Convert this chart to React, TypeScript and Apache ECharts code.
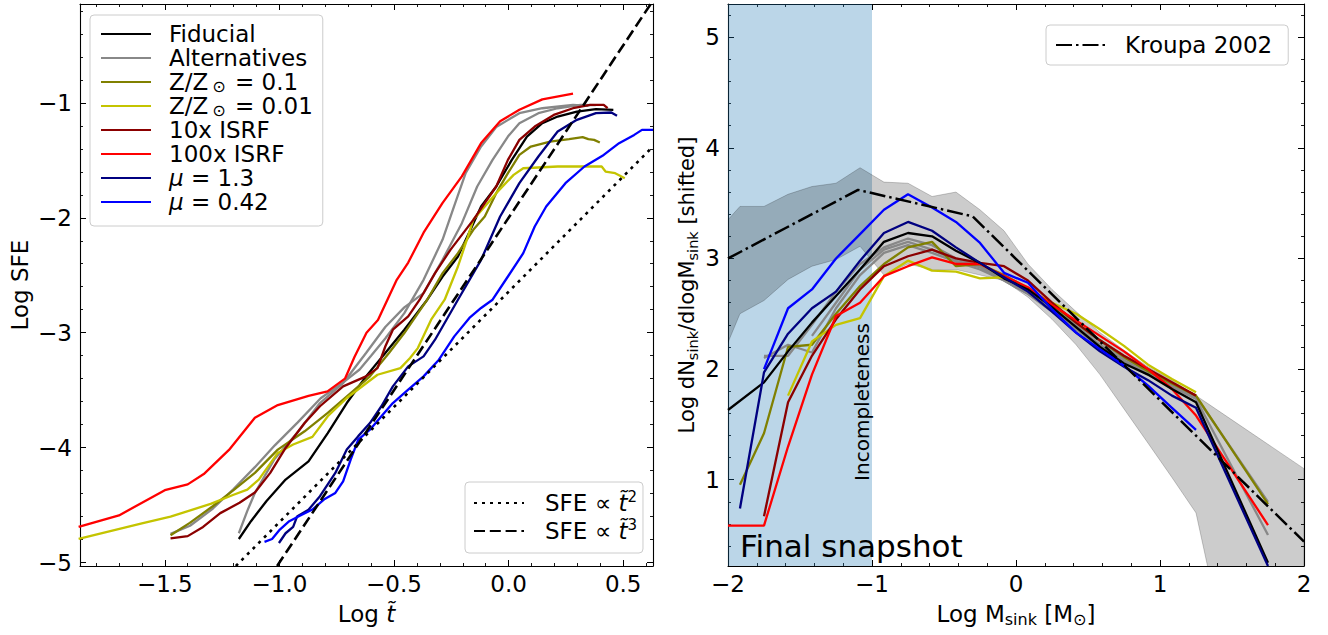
import React, { useEffect, useRef } from "react";
import * as echarts from "echarts";

const FONT = "DejaVu Sans";
const FS = 23;

// ---------------- Left panel: Log t~ (x) vs Log SFE (y) ----------------
const fidT = [-1.177, -1.124, -1.057, -0.973, -0.873, -0.789, -0.706, -0.622, -0.538, -0.455, -0.355, -0.288, -0.221, -0.17, -0.12, -0.054, 0.014, 0.08, 0.147, 0.214, 0.298, 0.381, 0.457];
const fidSFE = [-4.795, -4.64, -4.466, -4.278, -4.12, -3.873, -3.612, -3.38, -3.177, -2.974, -2.713, -2.511, -2.337, -2.12, -1.902, -1.728, -1.496, -1.293, -1.177, -1.119, -1.076, -1.055, -1.061];

const altAT = [-1.475, -1.39, -1.29, -1.2, -1.107, -1.02, -0.92, -0.82, -0.72, -0.65, -0.6, -0.538, -0.455, -0.371, -0.288, -0.238, -0.187, -0.12, -0.054, 0.047, 0.147, 0.281, 0.348];
const altASFE = [-4.75, -4.68, -4.53, -4.36, -4.17, -3.98, -3.78, -3.57, -3.43, -3.32, -3.2, -3.05, -2.83, -2.54, -2.19, -1.9, -1.61, -1.38, -1.21, -1.09, -1.047, -1.018, -1.026];

const altBT = [-1.177, -1.14, -1.107, -1.023, -0.923, -0.823, -0.722, -0.622, -0.538, -0.455, -0.371, -0.288, -0.204, -0.137, -0.07, -0.003, 0.047, 0.13, 0.214, 0.314, 0.38];
const altBSFE = [-4.745, -4.55, -4.395, -4.104, -3.873, -3.612, -3.438, -3.177, -2.95, -2.78, -2.656, -2.366, -2.047, -1.728, -1.496, -1.293, -1.177, -1.09, -1.047, -1.018, -1.02];

const z01T = [-1.475, -1.391, -1.291, -1.2, -1.107, -1.007, -0.89, -0.789, -0.689, -0.605, -0.522, -0.455, -0.355, -0.288, -0.221, -0.154, -0.104, -0.054, -0.003, 0.047, 0.097, 0.181, 0.264, 0.323, 0.348, 0.373, 0.398];
const z01SFE = [-4.762, -4.655, -4.51, -4.37, -4.22, -4.017, -3.858, -3.698, -3.525, -3.38, -3.177, -3.003, -2.713, -2.482, -2.308, -2.105, -1.989, -1.786, -1.612, -1.453, -1.38, -1.337, -1.316, -1.299, -1.316, -1.322, -1.345];

const z001T = [-1.876, -1.6, -1.475, -1.3, -1.2, -1.14, -1.09, -1.007, -0.94, -0.856, -0.789, -0.706, -0.572, -0.472, -0.43, -0.396, -0.338, -0.279, -0.221, -0.187, -0.154, -0.104, -0.054, -0.02, 0.022, 0.064, 0.214, 0.406, 0.423, 0.465, 0.507];
const z001SFE = [-4.795, -4.66, -4.6, -4.49, -4.41, -4.365, -4.278, -4.046, -3.973, -3.907, -3.727, -3.568, -3.366, -3.308, -3.22, -3.134, -2.887, -2.713, -2.424, -2.221, -2.018, -1.902, -1.786, -1.714, -1.627, -1.569, -1.554, -1.554, -1.598, -1.612, -1.656];

const isrf10T = [-1.475, -1.4, -1.333, -1.258, -1.174, -1.107, -1.04, -0.973, -0.89, -0.823, -0.722, -0.622, -0.572, -0.538, -0.505, -0.438, -0.388, -0.321, -0.254, -0.154, -0.104, -0.054, -0.003, 0.047, 0.114, 0.197, 0.281, 0.356, 0.415, 0.432];
const isrf10SFE = [-4.79, -4.77, -4.69, -4.57, -4.48, -4.39, -4.22, -4.003, -3.786, -3.64, -3.467, -3.38, -3.308, -3.12, -2.974, -2.858, -2.713, -2.482, -2.279, -2.018, -1.873, -1.728, -1.496, -1.322, -1.206, -1.105, -1.047, -1.018, -1.018, -1.047];

const isrf100T = [-1.876, -1.7, -1.5, -1.4, -1.33, -1.22, -1.107, -1.007, -0.873, -0.79, -0.714, -0.672, -0.62, -0.57, -0.488, -0.438, -0.371, -0.288, -0.204, -0.12, -0.037, 0.047, 0.147, 0.281];
const isrf100SFE = [-4.69, -4.59, -4.37, -4.32, -4.23, -4.02, -3.74, -3.63, -3.55, -3.51, -3.4, -3.21, -3.0, -2.89, -2.54, -2.39, -2.13, -1.87, -1.64, -1.35, -1.16, -1.06, -0.97, -0.92];

const mu13T = [-1.002, -0.973, -0.94, -0.923, -0.873, -0.823, -0.756, -0.706, -0.656, -0.605, -0.555, -0.505, -0.438, -0.371, -0.321, -0.271, -0.221, -0.12, -0.037, 0.047, 0.13, 0.214, 0.298, 0.381, 0.448, 0.473];
const mu13SFE = [-4.83, -4.745, -4.69, -4.6, -4.54, -4.423, -4.22, -4.017, -3.9, -3.786, -3.64, -3.467, -3.293, -3.206, -3.061, -2.887, -2.713, -2.366, -1.989, -1.699, -1.467, -1.25, -1.148, -1.09, -1.084, -1.113];

const mu042T = [-1.065, -1.032, -0.998, -0.957, -0.915, -0.856, -0.806, -0.756, -0.722, -0.689, -0.656, -0.605, -0.555, -0.505, -0.438, -0.371, -0.304, -0.237, -0.171, -0.12, -0.07, -0.003, 0.064, 0.114, 0.164, 0.248, 0.331, 0.415, 0.482, 0.548, 0.582, 0.63];
const mu042SFE = [-4.82, -4.795, -4.713, -4.64, -4.597, -4.539, -4.452, -4.394, -4.293, -4.104, -3.93, -3.844, -3.728, -3.612, -3.496, -3.38, -3.235, -3.032, -2.872, -2.785, -2.713, -2.511, -2.308, -2.076, -1.902, -1.699, -1.554, -1.453, -1.351, -1.279, -1.235, -1.235];

// power-law guide lines (end points)
const pow2T = [-1.19, 0.63];
const pow2SFE = [-5.03, -1.38];
const pow3T = [-1.01, 0.62];
const pow3SFE = [-5.03, -0.14];

// ---------------- Right panel: Log M_sink (x) vs Log dN/dlogM (y) ----------------
const imfFidM = [-2.0, -1.75, -1.583, -1.417, -1.25, -1.083, -0.917, -0.75, -0.583, -0.417, -0.25, -0.083, 0.083, 0.25, 0.417, 0.583, 0.75, 0.917, 1.083, 1.25, 1.75];
const imfFidN = [1.63, 1.88, 2.16, 2.42, 2.66, 2.9, 3.15, 3.23, 3.2, 3.07, 2.96, 2.82, 2.72, 2.56, 2.38, 2.2, 2.05, 1.95, 1.82, 1.7, 0.25];

const imfAltAM = [-1.75, -1.583, -1.417, -1.25, -1.083, -0.917, -0.75, -0.583, -0.417, -0.25, -0.083, 0.083, 0.25, 0.417, 0.583, 0.75, 0.917, 1.083, 1.25, 1.75];
const imfAltAN = [2.12, 2.12, 2.4, 2.7, 2.95, 3.1, 3.18, 3.12, 3.0, 2.93, 2.82, 2.7, 2.55, 2.4, 2.25, 2.1, 1.98, 1.85, 1.75, 0.8];
const imfAltBM = [-1.75, -1.583, -1.417, -1.25, -1.083, -0.917, -0.75, -0.583, -0.417, -0.25, -0.083, 0.083, 0.25, 0.417, 0.583, 0.75, 0.917, 1.083, 1.25, 1.75];
const imfAltBN = [2.1, 2.22, 2.15, 2.55, 2.85, 3.05, 3.12, 3.05, 2.97, 2.9, 2.8, 2.68, 2.52, 2.36, 2.2, 2.07, 1.95, 1.84, 1.73, 0.5];
const imfAltCM = [-1.417, -1.25, -1.083, -0.917, -0.75, -0.583, -0.417, -0.25, -0.083, 0.083, 0.25, 0.417, 0.583, 0.75, 0.917, 1.083, 1.25];
const imfAltCN = [2.3, 2.6, 2.9, 3.08, 3.15, 3.08, 2.98, 2.92, 2.8, 2.68, 2.53, 2.38, 2.22, 2.08, 1.96, 1.85, 1.74];

const imfZ01M = [-1.917, -1.75, -1.583, -1.417, -1.25, -1.083, -0.917, -0.75, -0.583, -0.417, -0.25, -0.083, 0.083, 0.25, 0.417, 0.583, 0.75, 0.917, 1.083, 1.25, 1.75];
const imfZ01N = [0.955, 1.42, 2.2, 2.22, 2.5, 2.75, 2.95, 3.1, 3.15, 2.93, 2.95, 2.85, 2.73, 2.58, 2.42, 2.26, 2.11, 1.98, 1.87, 1.76, 0.78];

const imfZ001M = [-1.583, -1.417, -1.25, -1.083, -0.917, -0.75, -0.583, -0.417, -0.25, -0.083, 0.083, 0.25, 0.417, 0.583, 0.75, 0.917, 1.083, 1.25];
const imfZ001N = [1.76, 2.25, 2.4, 2.46, 2.84, 2.98, 2.89, 2.88, 2.82, 2.83, 2.72, 2.6, 2.5, 2.36, 2.21, 2.04, 1.91, 1.79];

const imfI10M = [-1.75, -1.583, -1.417, -1.25, -1.083, -0.917, -0.75, -0.583, -0.417, -0.25, -0.083, 0.083, 0.25, 0.417, 0.583, 0.75, 0.917, 1.083, 1.25];
const imfI10N = [0.67, 1.7, 2.12, 2.45, 2.72, 2.93, 3.02, 3.08, 3.0, 2.96, 2.93, 2.8, 2.6, 2.42, 2.26, 2.12, 2.0, 1.88, 1.76];

const imfI100M = [-2.0, -1.75, -1.583, -1.417, -1.25, -1.083, -0.917, -0.75, -0.583, -0.417, -0.25, -0.083, 0.083, 0.25, 0.417, 0.583, 0.75, 0.917, 1.083, 1.25, 1.75];
const imfI100N = [0.585, 0.585, 1.3, 1.95, 2.48, 2.6, 2.84, 2.93, 3.01, 2.95, 2.95, 2.84, 2.74, 2.58, 2.44, 2.3, 2.16, 2.0, 1.82, 1.58, 0.59];

const imfMu13M = [-1.917, -1.75, -1.583, -1.417, -1.25, -1.083, -0.917, -0.75, -0.583, -0.417, -0.25, -0.083, 0.083, 0.25, 0.417, 0.583, 0.75, 0.917, 1.083, 1.25, 1.75];
const imfMu13N = [0.74, 1.97, 2.32, 2.55, 2.7, 2.98, 3.23, 3.33, 3.25, 3.1, 2.96, 2.83, 2.7, 2.52, 2.33, 2.16, 2.02, 1.9, 1.76, 1.65, 0.22];

const imfMu042M = [-1.75, -1.583, -1.417, -1.25, -1.083, -0.917, -0.75, -0.583, -0.417, -0.25, -0.083, 0.083, 0.25, 0.417, 0.583, 0.75, 0.917, 1.083, 1.25];
const imfMu042N = [2.0, 2.55, 2.72, 3.0, 3.22, 3.44, 3.58, 3.46, 3.33, 3.14, 2.87, 2.78, 2.54, 2.33, 2.18, 2.03, 1.85, 1.65, 1.45];

const kroupaM = [-2.0, -1.097, -0.301, 2.0];
const kroupaN = [3.0, 3.62, 3.38, 0.44];

// spread band (fill between)
const bandM = [-2.0, -1.917, -1.75, -1.583, -1.417, -1.25, -1.083, -0.917, -0.75, -0.583, -0.417, -0.25, -0.083, 0.083, 0.25, 0.417, 0.583, 0.75, 0.917, 1.083, 1.25, 1.33, 1.75, 2.0];
const bandHi = [3.35, 3.47, 3.47, 3.58, 3.65, 3.68, 3.82, 3.69, 3.68, 3.56, 3.6, 3.44, 3.25, 2.95, 2.72, 2.52, 2.33, 2.17, 2.02, 1.9, 1.76, 1.69, 1.32, 1.1];
const bandLo = [2.24, 2.5, 2.62, 2.81, 2.93, 2.99, 3.11, 2.85, 2.95, 2.9, 2.9, 2.85, 2.8, 2.65, 2.45, 2.22, 1.95, 1.64, 1.33, 1.02, 0.7, 0.22, -0.5, -1.0];

// incompleteness region
const incompleteM = [-2.0, -1.0];

// axis ranges and ticks
const leftXRange = [-1.87, 0.63];
const leftYRange = [-5.03, -0.14];
const rightXRange = [-2, 2];
const rightYRange = [0.22, 5.3];
const leftXMajor = [-1.5, -1.0, -0.5, 0.0, 0.5];
const leftYMajor = [-5, -4, -3, -2, -1];
const rightXMajor = [-2, -1, 0, 1, 2];
const rightYMajor = [1, 2, 3, 4, 5];

function steps(a: number, b: number, s: number): number[] {
  const out: number[] = [];
  const n = Math.round((b - a) / s);
  for (let i = 0; i <= n; i++) out.push(Math.round((a + i * s) * 1000) / 1000);
  return out;
}
const leftXMinor = steps(-1.8, 0.6, 0.1);
const leftYMinor = steps(-5.0, -0.2, 0.2);
const rightXMinor = steps(-2, 2, 0.2);
const rightYMinor = steps(0.4, 5.2, 0.2);

const minus = (s: string) => s.replace("-", "\u2212");

const subRich = {
  s: { fontSize: 16, lineHeight: 16, verticalAlign: "bottom", fontFamily: FONT, color: "#000" },
  so: { fontSize: 16, lineHeight: 16, verticalAlign: "bottom", fontFamily: FONT, color: "#000", padding: [0, 2, 0, 4] },
  it: { fontStyle: "italic", fontSize: FS, fontFamily: FONT, color: "#000" },
  sup: { fontSize: 15, lineHeight: 18, verticalAlign: "top", fontFamily: FONT, color: "#000" },
};

function makeAxes(dim: "x" | "y", gridIndex: number, range: number[], majors: number[], minors: number[], fmt: (v: number) => string, nameCfg: any) {
  const sides = dim === "x" ? ["bottom", "top"] : ["left", "right"];
  const base = { type: "value", gridIndex, min: range[0], max: range[1], splitLine: { show: false }, silent: true };
  const major = (position: string, withLabel: boolean) => ({
    ...base,
    position,
    axisLine: { show: true, onZero: false, lineStyle: { color: "#000", width: 1.1 } },
    axisTick: { show: true, inside: true, length: 6, customValues: majors, lineStyle: { color: "#000", width: 1 } },
    axisLabel: withLabel
      ? { show: true, customValues: majors, formatter: fmt, color: "#000", fontSize: FS, fontFamily: FONT, margin: dim === "x" ? 6 : 8 }
      : { show: false },
    ...(withLabel ? nameCfg : {}),
  });
  const minor = (position: string) => ({
    ...base,
    position,
    axisLine: { show: false, onZero: false },
    axisTick: { show: true, inside: true, length: 3, customValues: minors, lineStyle: { color: "#000", width: 0.9 } },
    axisLabel: { show: false },
  });
  return [major(sides[0], true), minor(sides[0]), major(sides[1], false), minor(sides[1])];
}

const nameStyle = { fontSize: FS, fontFamily: FONT, color: "#000", lineHeight: 28, rich: subRich };
const nameStyleSmall = {
  fontSize: 21,
  fontFamily: FONT,
  color: "#000",
  lineHeight: 26,
  rich: { s: { fontSize: 14.5, lineHeight: 14.5, verticalAlign: "bottom", fontFamily: FONT, color: "#000" } },
};

function line(name: string, xs: number[], ys: number[], color: string, panel: number, extra: any = {}) {
  return {
    type: "line",
    name,
    data: xs.map((x, i) => [x, ys[i]]),
    xAxisIndex: panel * 4,
    yAxisIndex: panel * 4,
    symbol: "none",
    silent: true,
    z: 3,
    lineStyle: { color, width: 2.3 },
    itemStyle: { color },
    emphasis: { disabled: true },
    ...extra,
  };
}

const C = {
  fid: "#000000",
  alt: "#888888",
  z01: "#808000",
  z001: "#c4c400",
  i10: "#8b0000",
  i100: "#ff0000",
  mu13: "#000080",
  mu042: "#0000ff",
};

const legendNames: Record<string, string> = {
  Fiducial: "Fiducial",
  Alternatives: "Alternatives",
  Z01: "Z/Z{so|\u2299} = 0.1",
  Z001: "Z/Z{so|\u2299} = 0.01",
  "10x ISRF": "10x ISRF",
  "100x ISRF": "100x ISRF",
  mu13: "{it|\u03bc} = 1.3",
  mu042: "{it|\u03bc} = 0.42",
  t2: "SFE \u221d {it|t\u0303}{sup|2}",
  t3: "SFE \u221d {it|t\u0303}{sup|3}",
  "Kroupa 2002": "Kroupa 2002",
};

const legendBase = {
  orient: "vertical",
  itemWidth: 50,
  itemHeight: 14,
  itemGap: 0,
  selectedMode: false,
  backgroundColor: "rgba(255,255,255,0.8)",
  borderColor: "#cccccc",
  borderWidth: 1,
  borderRadius: 4,
  itemStyle: { color: "rgba(0,0,0,0)", borderWidth: 0, opacity: 0 },
  formatter: (n: string) => legendNames[n] ?? n,
};

export default function App() {
  const ref = useRef<HTMLDivElement>(null);
  useEffect(() => {
    if (!ref.current) return;
    const chart = echarts.init(ref.current, undefined, { renderer: "svg" });
    const option: any = {
      animation: false,
      textStyle: { fontFamily: FONT },
      grid: [
        { left: 80, top: 4, width: 573, height: 562, containLabel: false },
        { left: 728, top: 4, width: 576, height: 562, containLabel: false },
      ],
      xAxis: [
        ...makeAxes("x", 0, leftXRange, leftXMajor, leftXMinor, (v) => minus(v.toFixed(1)), {
          name: "Log {it|t\u0303}", nameLocation: "middle", nameGap: 25, nameTextStyle: nameStyle,
        }),
        ...makeAxes("x", 1, rightXRange, rightXMajor, rightXMinor, (v) => minus(String(v)), {
          name: "Log M{s|sink} [M{s|\u2299}]", nameLocation: "middle", nameGap: 25, nameTextStyle: nameStyle,
        }),
      ],
      yAxis: [
        ...makeAxes("y", 0, leftYRange, leftYMajor, leftYMinor, (v) => minus(String(v)), {
          name: "Log SFE", nameLocation: "middle", nameGap: 46, nameTextStyle: nameStyle,
        }),
        ...makeAxes("y", 1, rightYRange, rightYMajor, rightYMinor, (v) => minus(String(v)), {
          name: "Log dN{s|sink}/dlogM{s|sink} [shifted]", nameLocation: "middle", nameGap: 28, nameTextStyle: nameStyleSmall,
        }),
      ],
      legend: [
        {
          ...legendBase,
          data: ["Fiducial", "Alternatives", "Z01", "Z001", "10x ISRF", "100x ISRF", "mu13", "mu042"],
          left: 90,
          top: 15,
          padding: [7, 10, 12, 10],
          textStyle: { fontSize: FS, fontFamily: FONT, color: "#000", lineHeight: 24, padding: [0, 0, 0, 13], rich: subRich },
        },
        {
          ...legendBase,
          data: ["t2", "t3"],
          left: 465,
          top: 482,
          padding: [7, 6, 8, 8],
          textStyle: { fontSize: FS, fontFamily: FONT, color: "#000", lineHeight: 28, padding: [0, 0, 0, 16], rich: subRich },
        },
        {
          ...legendBase,
          data: ["Kroupa 2002"],
          left: 1046,
          top: 25,
          padding: [8, 16, 8, 9],
          textStyle: { fontSize: FS, fontFamily: FONT, color: "#000", lineHeight: 24, padding: [0, 0, 0, 14], rich: subRich },
        },
      ],
      series: [
        // left panel
        line("Alternatives", altAT, altASFE, C.alt, 0),
        line("Alternatives", altBT, altBSFE, C.alt, 0),
        line("Fiducial", fidT, fidSFE, C.fid, 0),
        line("Z01", z01T, z01SFE, C.z01, 0),
        line("Z001", z001T, z001SFE, C.z001, 0),
        line("10x ISRF", isrf10T, isrf10SFE, C.i10, 0),
        line("100x ISRF", isrf100T, isrf100SFE, C.i100, 0),
        line("mu13", mu13T, mu13SFE, C.mu13, 0),
        line("mu042", mu042T, mu042SFE, C.mu042, 0),
        line("t2", pow2T, pow2SFE, "#000", 0, { z: 4, lineStyle: { color: "#000", width: 2.6, type: [3, 5], cap: "butt" } }),
        line("t3", pow3T, pow3SFE, "#000", 0, { z: 4, lineStyle: { color: "#000", width: 2.6, type: [11, 4.8], cap: "butt" } }),
        // right panel: incompleteness shading
        {
          type: "custom",
          xAxisIndex: 4,
          yAxisIndex: 4,
          z: 1,
          silent: true,
          clip: true,
          data: [[incompleteM[0], rightYRange[0]]],
          renderItem: (_p: any, api: any) => {
            const a = api.coord([incompleteM[0], rightYRange[1]]);
            const b = api.coord([incompleteM[1], rightYRange[0]]);
            return { type: "rect", shape: { x: a[0], y: a[1], width: b[0] - a[0], height: b[1] - a[1] }, style: { fill: "rgba(31,119,180,0.3)" } };
          },
        },
        // spread band
        {
          type: "custom",
          xAxisIndex: 4,
          yAxisIndex: 4,
          z: 2,
          silent: true,
          clip: true,
          data: [[bandM[0], bandHi[0]]],
          renderItem: (_p: any, api: any) => {
            const pts: number[][] = [];
            bandM.forEach((m, i) => pts.push(api.coord([m, bandHi[i]])));
            for (let i = bandM.length - 1; i >= 0; i--) pts.push(api.coord([bandM[i], bandLo[i]]));
            return { type: "polygon", shape: { points: pts }, style: { fill: "rgba(0,0,0,0.2)", stroke: "rgba(0,0,0,0.2)", lineWidth: 1 } };
          },
        },
        line("r-altA", imfAltAM, imfAltAN, C.alt, 1),
        line("r-altB", imfAltBM, imfAltBN, C.alt, 1),
        line("r-altC", imfAltCM, imfAltCN, C.alt, 1),
        line("r-z01", imfZ01M, imfZ01N, C.z01, 1),
        line("r-z001", imfZ001M, imfZ001N, C.z001, 1),
        line("r-i10", imfI10M, imfI10N, C.i10, 1),
        line("r-i100", imfI100M, imfI100N, C.i100, 1),
        line("r-fid", imfFidM, imfFidN, C.fid, 1),
        line("r-mu13", imfMu13M, imfMu13N, C.mu13, 1),
        line("r-mu042", imfMu042M, imfMu042N, C.mu042, 1),
        line("Kroupa 2002", kroupaM, kroupaN, "#000", 1, { z: 4, lineStyle: { color: "#000", width: 2.5, type: [16, 4, 2.5, 4], cap: "butt" } }),
      ],
      graphic: {
        elements: [
          {
            type: "text",
            x: 740,
            y: 546,
            z: 100,
            silent: true,
            style: { text: "Final snapshot", fontSize: 31, fontFamily: FONT, fill: "#000", align: "left", verticalAlign: "middle" },
          },
          {
            type: "text",
            x: 862,
            y: 402,
            z: 100,
            rotation: Math.PI / 2,
            silent: true,
            style: { text: "Incompleteness", fontSize: 20, fontFamily: FONT, fill: "#000", align: "center", verticalAlign: "middle" },
          },
        ],
      },
    };
    chart.setOption(option);
    return () => chart.dispose();
  }, []);
  return <div ref={ref} style={{ position: "absolute", left: 0, top: 0, width: 1328, height: 635 }} />;
}
